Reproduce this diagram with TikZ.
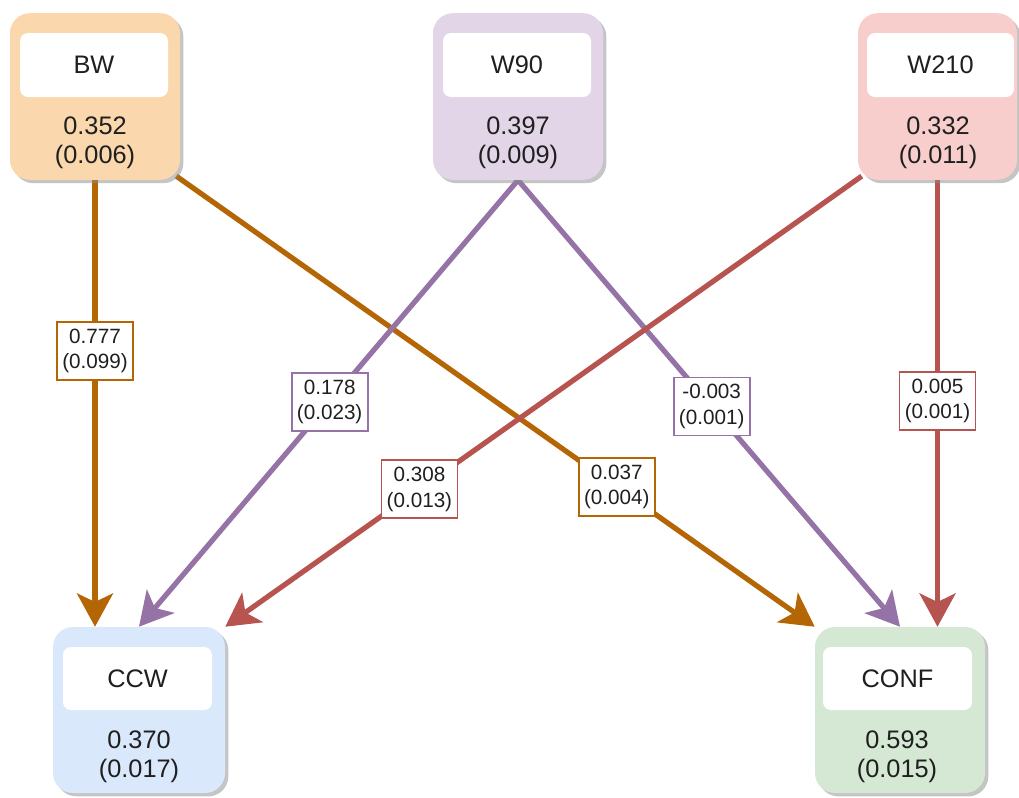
\documentclass[tikz,border=0pt]{standalone}
\usepackage{fontspec}
\setmainfont{Liberation Sans}
\usetikzlibrary{arrows.meta,shadows,calc,backgrounds}
\definecolor{bwfill}{HTML}{FAD7AC}
\definecolor{bwline}{HTML}{B46504}
\definecolor{wnfill}{HTML}{E1D5E7}
\definecolor{wnline}{HTML}{9673A6}
\definecolor{wtfill}{HTML}{F8CECC}
\definecolor{wtline}{HTML}{B85450}
\definecolor{ccwfill}{HTML}{DAE8FC}
\definecolor{conffill}{HTML}{D5E8D4}
\definecolor{txt}{HTML}{1F1F1F}
\tikzset{
 outerbox/.style={rectangle, rounded corners=15pt, inner sep=0pt,
   drop shadow={shadow xshift=2.5pt, shadow yshift=-2.5pt, fill=black!45, opacity=0.5}},
 namebox/.style={rectangle, rounded corners=6pt, fill=white, inner sep=0pt,
   minimum width=111pt, minimum height=48pt, font=\fontsize{19}{22}\selectfont, text=txt},
 valtext/.style={align=center, font=\fontsize{19}{22}\selectfont, text=txt, inner sep=0pt},
 conn/.style={line width=3.9pt, -{Stealth[length=25pt,width=27pt,inset=6.5pt]}},
 lbl/.style={draw, line width=1.3pt, fill=white, align=center,
   font=\fontsize{15.5}{19}\selectfont, text=txt, minimum width=57pt,
   minimum height=43.5pt, inner sep=1pt}
}
\begin{document}
\begin{tikzpicture}[x=0.75pt,y=-0.75pt]
\useasboundingbox (0,0) rectangle (1019,797);
% top boxes
\node[outerbox, fill=bwfill, minimum width=127.5pt, minimum height=125pt] (bw) at (95,96.5) {};
\node[namebox] (bwn) at (94,65) {BW};
\node[valtext] (bwv) at (95,142.5) {0.352\\(0.006)};

\node[outerbox, fill=wnfill, minimum width=127.5pt, minimum height=125pt] (w90) at (518,96.5) {};
\node[namebox] (w90n) at (517,65) {W90};
\node[valtext] (w90v) at (518,142.5) {0.397\\(0.009)};

\node[outerbox, fill=wtfill, minimum width=119.25pt, minimum height=125pt] (w210) at (937.5,96.5) {};
\node[namebox, minimum width=110.25pt] (w210n) at (940.5,65) {W210};
\node[valtext] (w210v) at (938,142.5) {0.332\\(0.011)};

% bottom boxes
\node[outerbox, fill=ccwfill, minimum width=129pt, minimum height=124.5pt] (ccw) at (139,710) {};
\node[namebox, minimum width=111.75pt, minimum height=47.25pt] (ccwn) at (137.5,678.5) {CCW};
\node[valtext] (ccwv) at (139,757) {0.370\\(0.017)};

\node[outerbox, fill=conffill, minimum width=127.5pt, minimum height=124.5pt] (conf) at (900,710) {};
\node[namebox, minimum width=111.75pt, minimum height=47.25pt] (confn) at (897.5,678.5) {CONF};
\node[valtext] (confv) at (897,757) {0.593\\(0.015)};

\begin{scope}[on background layer]
\fill[white] (0,0) rectangle (1019,797);
\draw[conn, bwline] (bw.south) -- node[lbl, pos=0.383]{0.777\\(0.099)} (bw.south |- ccw.north);
\draw[conn, bwline] ($(bw.south east)+(-4,-4)$) -- node[lbl, pos=0.69]{0.037\\(0.004)} (conf.north west);
\draw[conn, wnline] (w90.south) -- node[lbl, pos=0.497]{0.178\\(0.023)} (ccw.north);
\draw[conn, wnline] (w90.south) -- node[lbl, pos=0.507]{-0.003\\(0.001)} (conf.north);
\draw[conn, wtline] ($(w210.south west)+(4,-4)$) -- node[lbl, pos=0.695]{0.308\\(0.013)} (ccw.north east);
\draw[conn, wtline] (w210.south) -- node[lbl, pos=0.494]{0.005\\(0.001)} (w210.south |- conf.north);
\end{scope}
\end{tikzpicture}
\end{document}
